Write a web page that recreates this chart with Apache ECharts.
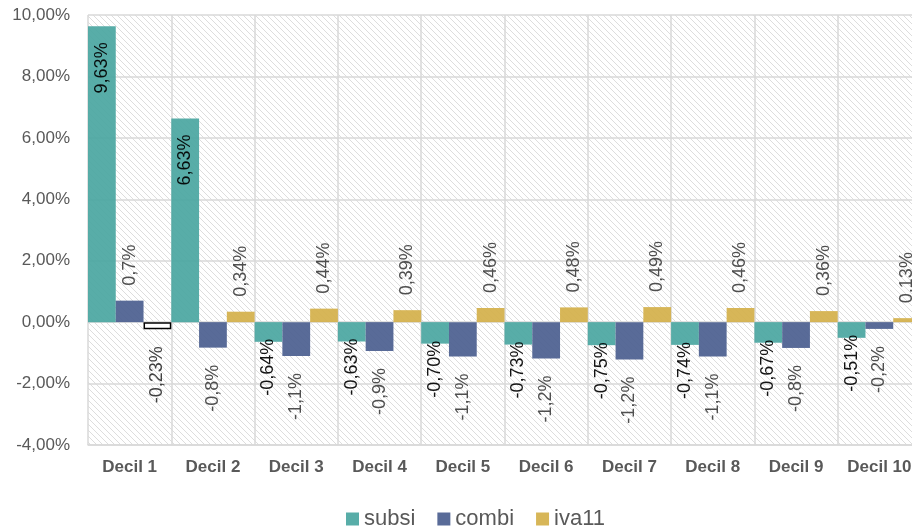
<!DOCTYPE html>
<html>
<head>
<meta charset="utf-8">
<script src="https://cdn.jsdelivr.net/npm/echarts@6/dist/echarts.min.js"></script>
<style>
  html, body { margin: 0; padding: 0; background: #fff; }
  #chart { width: 912px; height: 531px; }
</style>
</head>
<body>
<div id="chart"></div>
<script>
// ====== data ======
const categories = ['Decil 1', 'Decil 2', 'Decil 3', 'Decil 4', 'Decil 5',
                    'Decil 6', 'Decil 7', 'Decil 8', 'Decil 9', 'Decil 10'];
const subsi = [9.63, 6.63, -0.64, -0.63, -0.70, -0.73, -0.75, -0.74, -0.67, -0.51];
const combi = [0.70, -0.83, -1.10, -0.94, -1.12, -1.18, -1.22, -1.12, -0.84, -0.22];
const iva11 = [-0.23, 0.34, 0.44, 0.39, 0.46, 0.48, 0.49, 0.46, 0.36, 0.13];

const colors = { subsi: '#4aa6a1', combi: '#4b5e8f', iva11: '#d4b04a' };

const fmt = (v, d) => v.toFixed(d).replace('.', ',') + '%';

// ====== hatch pattern for plot area ======
function hatch() {
  const c = document.createElement('canvas');
  c.width = 6; c.height = 6;
  const ctx = c.getContext('2d');
  ctx.fillStyle = '#fff';
  ctx.fillRect(0, 0, 6, 6);
  ctx.strokeStyle = '#dddddd';
  ctx.lineWidth = 1;
  ctx.beginPath();
  ctx.moveTo(-1, -1); ctx.lineTo(7, 7);
  ctx.moveTo(-4, 2); ctx.lineTo(2, 8);
  ctx.moveTo(2, -4); ctx.lineTo(8, 2);
  ctx.stroke();
  return c;
}

// label placement, inside end for subsi, outside end for the others
function labelFor(v, dec, inside, color) {
  let pos;
  if (inside) {
    pos = v >= 0 ? { position: 'insideTop', distance: 16, align: 'right' }
                 : { position: 'bottom', distance: -3, align: 'right' };
  } else {
    pos = v >= 0 ? { position: 'top', distance: 15, align: 'left' }
                 : { position: 'bottom', distance: 17, align: 'right' };
  }
  return Object.assign({
    show: true, rotate: 90, verticalAlign: 'middle',
    fontSize: 18, color: color, formatter: fmt(v, dec)
  }, pos);
}

function items(vals, dec, inside, labelColor) {
  return vals.map(v => ({ value: v, label: labelFor(v, dec, inside, labelColor) }));
}

const iva11Items = items(iva11, 2, false, '#404040');
// Decil 1 iva11 is drawn as an empty box in the reference
iva11Items[0].itemStyle = { color: '#fff', borderColor: '#000', borderWidth: 1.5, opacity: 1 };

const chart = echarts.init(document.getElementById('chart'));

const option = {
  animation: false,
  backgroundColor: '#fff',
  textStyle: { fontFamily: 'Liberation Sans, Arial, sans-serif' },
  grid: {
    // plot runs past the right edge of the picture
    left: 88, width: 833, top: 15, bottom: 86,
    outerBoundsMode: 'none', containLabel: false,
    show: true, borderWidth: 0,
    backgroundColor: { image: hatch(), repeat: 'repeat' }
  },
  legend: {
    left: 341, top: 503,
    icon: 'rect', itemWidth: 13, itemHeight: 13, itemGap: 22,
    textStyle: { fontSize: 22, color: '#595959' },
    data: ['subsi', 'combi', 'iva11']
  },
  xAxis: {
    type: 'category',
    data: categories,
    axisLine: { onZero: false, lineStyle: { color: '#d9d9d9', width: 1.5 } },
    axisTick: { show: false },
    splitLine: { show: true, interval: 0, lineStyle: { color: '#d9d9d9', width: 1.5 } },
    axisLabel: { interval: 0, fontSize: 17, fontWeight: 'bold', color: '#595959', margin: 14 }
  },
  yAxis: {
    type: 'value',
    min: -4, max: 10, interval: 2,
    axisLine: { show: false },
    axisTick: { show: false },
    splitLine: { lineStyle: { color: '#d9d9d9', width: 1.5 } },
    axisLabel: { fontSize: 17, color: '#595959', margin: 18, formatter: v => fmt(v, 2) }
  },
  series: [
    {
      name: 'subsi', type: 'bar', barGap: '0%', barCategoryGap: '0%',
      itemStyle: { color: colors.subsi, opacity: 0.92 },
      data: items(subsi, 2, true, '#000')
    },
    {
      name: 'combi', type: 'bar', barGap: '0%', barCategoryGap: '0%',
      itemStyle: { color: colors.combi, opacity: 0.92 },
      data: items(combi, 1, false, '#404040')
    },
    {
      name: 'iva11', type: 'bar', barGap: '0%', barCategoryGap: '0%',
      itemStyle: { color: colors.iva11, opacity: 0.92 },
      data: iva11Items
    }
  ]
};

chart.setOption(option);
</script>
</body>
</html>
